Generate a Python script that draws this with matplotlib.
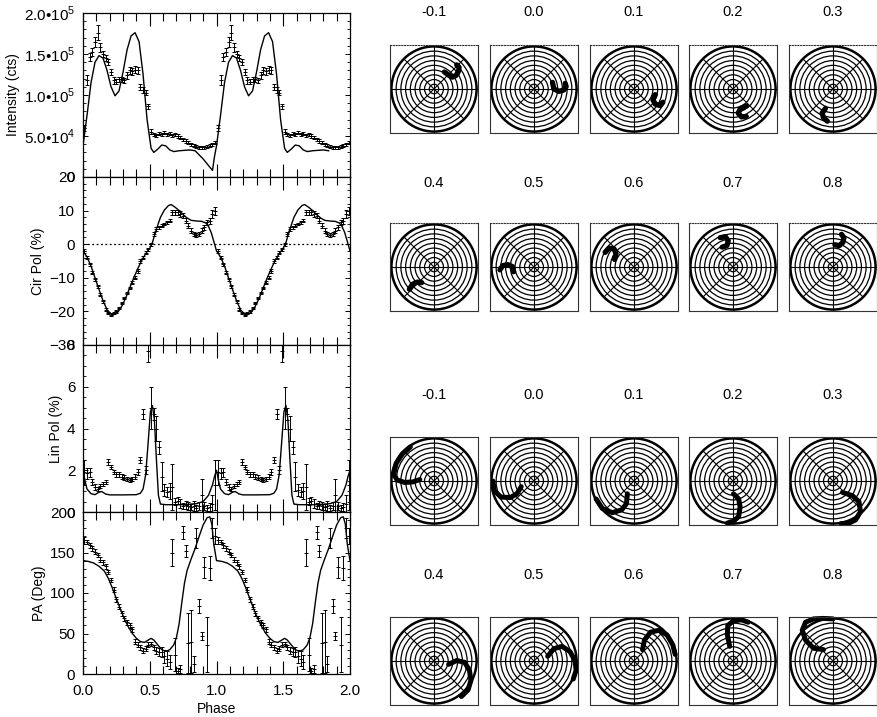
import numpy as np
import matplotlib.pyplot as plt
from matplotlib.patches import Circle
from matplotlib.ticker import MultipleLocator, FuncFormatter

plt.rcParams['font.family'] = ['Liberation Sans', 'DejaVu Sans']
plt.rcParams['mathtext.fontset'] = 'custom'
plt.rcParams['mathtext.rm'] = 'Liberation Sans'
plt.rcParams['font.size'] = 10

# ---------------- light-curve data (one cycle, shown twice) ----------------
phase_bins = np.arange(0.01, 1.0, 0.02)

intensity = [60, 118, 146, 152, 165, 176, 158, 150, 145, 140,
             128, 118, 116, 119, 119, 118, 124, 130, 129, 131,
             130, 110, 106, 103, 86, 55, 52, 51, 53, 52,
             54, 52, 53, 51, 52, 50, 48, 46, 44, 42,
             40, 38, 37, 36, 36, 36, 37, 38, 40, 42]  # x 1e3 cts
intensity_err = [4, 6, 5, 5, 6, 9, 5, 4, 4, 4,
                 4, 4, 3, 3, 3, 3, 4, 4, 4, 4,
                 4, 4, 4, 3, 3, 3, 2, 2, 2, 2,
                 2, 2, 2, 2, 2, 2, 2, 2, 2, 2,
                 2, 2, 2, 2, 2, 2, 2, 2, 2, 2]

cirpol = [-2.0, -4.0, -6.0, -8.5, -10.5, -12.5, -15.0, -17.0, -19.5, -20.5,
          -21.0, -20.5, -20.0, -19.0, -17.5, -16.0, -14.5, -13.0, -11.5, -10.0,
          -8.0, -5.0, -4.0, -2.5, -1.5, 0.0, 3.0, 4.5, 5.0, 5.5,
          6.0, 6.5, 7.0, 9.5, 9.5, 9.5, 9.0, 8.5, 7.0, 5.5,
          4.0, 3.0, 2.8, 3.0, 4.0, 5.0, 6.5, 7.0, 9.0, 10.0]
cirpol_err = [0.5, 0.4, 0.4, 0.4, 0.4, 0.4, 0.4, 0.4, 0.4, 0.4,
              0.4, 0.4, 0.4, 0.4, 0.4, 0.4, 0.4, 0.4, 0.4, 0.5,
              0.5, 0.5, 0.4, 0.4, 0.4, 0.4, 0.5, 0.5, 0.4, 0.4,
              0.4, 0.4, 0.5, 0.8, 0.8, 0.8, 0.8, 0.7, 0.7, 0.7,
              0.7, 0.6, 0.6, 0.6, 0.7, 0.7, 0.8, 0.9, 1.2, 1.2]

linpol = [1.9, 1.85, 1.9, 1.45, 1.2, 1.1, 1.25, 1.35, 1.45, 2.4,
          2.15, 1.9, 1.8, 1.8, 1.7, 1.65, 1.6, 1.55, 1.6, 1.7,
          1.9, 2.5, 4.7, 2.0, 7.7, 5.0, 4.7, 4.0, 3.1, 1.7,
          1.05, 0.95, 1.0, 1.2, 0.5, 0.55, 0.4, 0.3, 0.35, 0.3,
          0.25, 0.3, 0.2, 0.3, 0.8, 0.3, 0.2, 0.25, 0.4, 1.3]
linpol_err = [0.6, 0.25, 0.2, 0.15, 0.15, 0.1, 0.1, 0.1, 0.1, 0.15,
              0.1, 0.1, 0.1, 0.1, 0.1, 0.1, 0.1, 0.1, 0.1, 0.1,
              0.15, 0.15, 0.25, 0.2, 0.5, 1.0, 0.3, 0.6, 0.3, 0.7,
              0.3, 0.25, 0.4, 1.1, 0.15, 0.15, 0.2, 0.15, 0.2, 0.2,
              0.15, 0.25, 0.15, 0.2, 0.8, 0.2, 0.15, 0.2, 0.4, 1.2]

pa = [165, 163, 159, 155, 151, 147, 141, 138, 133, 126,
      116, 104, 92, 83, 75, 69, 64, 60, 55, 40,
      36, 33, 29, 31, 36, 37, 33, 29, 27, 27,
      22, 19, 15, 150, 24, 4, 6, 175, 152, 38,
      40, 12, 168, 84, 47, 132, 36, 131, 180, 170]
pa_err = [4, 3, 3, 3, 3, 3, 3, 3, 3, 3,
          3, 3, 3, 3, 3, 3, 3, 3, 3, 3,
          3, 3, 3, 3, 3, 3, 3, 4, 5, 6,
          8, 9, 9, 17, 20, 3, 5, 8, 7, 37,
          39, 10, 12, 9, 5, 13, 34, 15, 12, 10]

# ---------------- model curves (one cycle) ----------------
int_model_phase = [0.00, 0.03, 0.06, 0.09, 0.12, 0.15, 0.18, 0.21, 0.24, 0.27,
                   0.30, 0.33, 0.36, 0.39, 0.42, 0.45, 0.48, 0.51, 0.53, 0.56,
                   0.59, 0.62, 0.65, 0.68, 0.72, 0.80, 0.84, 0.90, 0.95, 0.97,
                   0.985, 1.00]
int_model = [38, 75, 115, 140, 148, 145, 130, 110, 99, 105,
             128, 155, 172, 176, 165, 125, 70, 35, 30, 34,
             39, 38, 33, 31, 32, 33, 32, 22, 12, 8,
             25, 38]  # x 1e3 cts

cp_model_phase = [0.00, 0.03, 0.06, 0.09, 0.12, 0.15, 0.18, 0.21, 0.23, 0.26,
                  0.29, 0.32, 0.35, 0.38, 0.41, 0.44, 0.47, 0.50, 0.52, 0.55,
                  0.58, 0.61, 0.64, 0.66, 0.69, 0.72, 0.75, 0.78, 0.81, 0.85,
                  0.89, 0.92, 0.94, 0.96, 0.98, 1.00]
cp_model = [-2.0, -3.8, -6.5, -10.0, -13.5, -16.8, -19.5, -20.8, -21.0, -20.3,
            -18.5, -16.0, -13.0, -10.0, -7.3, -4.8, -2.8, -1.2, 0.5, 4.5,
            8.0, 10.2, 11.5, 11.8, 11.0, 10.0, 8.8, 7.8, 7.1, 6.9,
            6.8, 6.3, 5.3, 3.5, 0.8, -2.0]

lp_model_phase = [0.00, 0.015, 0.03, 0.06, 0.09, 0.12, 0.14, 0.17, 0.20, 0.30,
                  0.40, 0.43, 0.45, 0.47, 0.49, 0.505, 0.52, 0.535, 0.55, 0.565,
                  0.58, 0.62, 0.75, 0.85, 0.90, 0.94, 0.97, 0.985, 1.00]
lp_model = [2.0, 1.5, 1.1, 0.88, 0.83, 0.95, 0.98, 0.86, 0.82, 0.82,
            0.83, 0.9, 1.1, 1.8, 3.5, 4.8, 5.1, 4.4, 2.5, 0.8,
            0.38, 0.35, 0.35, 0.4, 0.5, 0.8, 1.3, 1.7, 2.0]

pa_model_phase = [0.00, 0.04, 0.08, 0.12, 0.16, 0.19, 0.22, 0.25, 0.28, 0.31,
                  0.34, 0.37, 0.40, 0.43, 0.46, 0.49, 0.51, 0.53, 0.56, 0.59,
                  0.62, 0.65, 0.68, 0.70, 0.72, 0.74, 0.76, 0.78, 0.81, 0.84,
                  0.87, 0.90, 0.93, 0.95, 0.965, 0.98, 1.00]
pa_model = [140, 139, 137, 133, 127, 118, 106, 93, 80, 68,
            58, 50, 44, 40, 39, 42, 44, 42, 36, 30,
            28, 30, 36, 45, 62, 88, 112, 128, 142, 155,
            170, 184, 193, 194, 185, 160, 140]

# ---------------- polarisation maps ----------------
map_phases = ['-0.1', '0.0', '0.1', '0.2', '0.3', '0.4', '0.5', '0.6', '0.7', '0.8']

circ_tracks = [
    [(22, 36), (30, 30), (39, 25), (47, 29), (52, 38), (53, 46), (48, 51)],
    [(39, 14), (42, 0), (53, -5), (63, -2), (68, 5), (66, 12)],
    [(45, -12), (40, -23), (45, -32), (55, -35), (61, -28)],
    [(28, -36), (16, -41), (11, -51), (18, -59), (28, -58)],
    [(-16, -41), (-23, -51), (-20, -61), (-12, -68)],
    [(-52, -47), (-46, -37), (-36, -32), (-26, -33)],
    [(-72, -6), (-66, 3), (-55, 5), (-46, 1), (-43, -10)],
    [(-61, 31), (-53, 40), (-42, 38), (-38, 28), (-41, 16)],
    [(-27, 62), (-16, 64), (-10, 55), (-13, 45), (-23, 42)],
    [(18, 69), (23, 62), (21, 52), (13, 45), (4, 47)],
]

lin_tracks = [
    [(-50, 72), (-67, 57), (-80, 37), (-85, 15), (-78, 2), (-62, -3), (-45, -2), (-30, 3)],
    [(-87, 0), (-84, -20), (-70, -34), (-50, -35), (-36, -27), (-27, -12)],
    [(-80, -38), (-67, -58), (-46, -67), (-26, -61), (-16, -48), (-14, -27)],
    [(1, -27), (12, -38), (15, -55), (12, -75), (1, -85), (-12, -89)],
    [(20, -24), (41, -31), (55, -44), (58, -65), (48, -82), (34, -89), (17, -90)],
    [(31, -7), (48, 1), (65, -3), (75, -20), (78, -41), (72, -61), (58, -75)],
    [(29, 10), (42, 26), (59, 31), (76, 20), (87, 0), (89, -20), (83, -38)],
    [(18, 24), (22, 44), (35, 61), (53, 65), (70, 55), (82, 34), (87, 14)],
    [(-7, 31), (-12, 55), (-11, 75), (1, 85), (18, 87), (32, 82)],
    [(-20, 24), (-41, 27), (-58, 44), (-65, 65), (-58, 82), (-41, 89), (-20, 90), (0, 89)],
]

W, H = 877, 717
fig = plt.figure(figsize=(W / 100, H / 100), dpi=100)


def px_axes(x0, y0, x1, y1):
    return fig.add_axes([x0 / W, 1 - y1 / H, (x1 - x0) / W, (y1 - y0) / H])


def two_cycles(ph, vals, stop=None):
    ph = np.asarray(ph)
    vals = np.asarray(vals, dtype=float)
    ph2, v2 = ph + 1, vals
    if stop is not None:
        keep = ph <= stop
        ph2, v2 = ph[keep] + 1, vals[keep]
    return np.concatenate([ph, ph2]), np.concatenate([vals, v2])


def sci_fmt(v, pos):
    if v <= 0:
        return '0'
    e = int(np.floor(np.log10(v) + 1e-9))
    return f'{v / 10 ** e:.1f}\u2022' + r'10$^{%d}$' % e


edges = [13, 177, 345, 512, 674]
panels = [
    (intensity, intensity_err, int_model_phase, int_model, 'Intensity (cts)', (0, 2e5), 5e4, 1e4, 1e3),
    (cirpol, cirpol_err, cp_model_phase, cp_model, 'Cir Pol (%)', (-30, 20), 10, 2, 1),
    (linpol, linpol_err, lp_model_phase, lp_model, 'Lin Pol (%)', (0, 8), 2, 0.5, 1),
    (pa, pa_err, pa_model_phase, pa_model, 'PA (Deg)', (0, 200), 50, 10, 1),
]

for i, (vals, errs, mph, mvals, label, ylim, major, minor, scale) in enumerate(panels):
    ax = px_axes(83, edges[i], 350, edges[i + 1])
    x, y = two_cycles(phase_bins, np.asarray(vals) * scale)
    _, e = two_cycles(phase_bins, np.asarray(errs) * scale)
    ax.errorbar(x, y, yerr=e, fmt='_', ms=2.5, mew=0.7, color='k',
                elinewidth=0.7, capsize=1.2, capthick=0.7)
    stop = 0.84 if i == 0 else None
    mx, my = two_cycles(mph, np.asarray(mvals) * scale, stop)
    ax.plot(mx, my, color='k', lw=1.0)
    if i == 1:
        ax.axhline(0, color='k', lw=0.9, ls=(0, (1.5, 2)))

    ax.set_xlim(0, 2)
    ax.set_ylim(*ylim)
    ax.xaxis.set_major_locator(MultipleLocator(0.5))
    ax.xaxis.set_minor_locator(MultipleLocator(0.1))
    ax.yaxis.set_major_locator(MultipleLocator(major))
    ax.yaxis.set_minor_locator(MultipleLocator(minor))
    ax.tick_params(axis='x', which='both', direction='in', top=True, bottom=True)
    ax.tick_params(axis='x', which='major', length=9.5, width=0.8, pad=7, labelsize=11)
    ax.tick_params(axis='x', which='minor', length=5.5, width=0.8)
    ax.tick_params(axis='y', which='both', direction='in', left=True, right=True)
    ax.tick_params(axis='y', which='major', length=3.5, width=0.7, pad=5.5, labelsize=11)
    ax.tick_params(axis='y', which='minor', length=2, width=0.6)
    if i == 0:
        ax.yaxis.set_major_formatter(FuncFormatter(sci_fmt))
    if i < 3:
        ax.tick_params(axis='x', labelbottom=False)
    else:
        ax.xaxis.set_major_formatter(FuncFormatter(lambda v, p: f'{v:.1f}'))
        ax.set_xlabel('Phase', labelpad=3, fontsize=10)
    ax.set_ylabel(label, labelpad=3, fontsize=10)
    for sp in ax.spines.values():
        sp.set_linewidth(0.9)

# ---------------- map grid ----------------
col_left = [390, 490, 590, 689, 789]
row_top = [45, 223, 437, 617]
title_y = [12, 183, 395, 575]
box = 88


def draw_map(ax, track, lw, dotted_top):
    for r in range(10, 100, 10):
        ax.add_patch(Circle((0, 0), r, fill=False, color='k',
                            lw=1.8 if r == 90 else 0.9))
    for ang in (0, 45, 90, 135):
        t = np.deg2rad(ang)
        ax.plot([-90 * np.cos(t), 90 * np.cos(t)], [-90 * np.sin(t), 90 * np.sin(t)],
                color='k', lw=0.8)
    tx, ty = zip(*track)
    ax.plot(tx, ty, color='k', lw=lw, solid_capstyle='round', solid_joinstyle='round',
            clip_on=False)
    ax.set_xlim(-93, 93)
    ax.set_ylim(-93, 93)
    ax.set_xticks([])
    ax.set_yticks([])
    for sp in ax.spines.values():
        sp.set_linewidth(0.8)
        sp.set_color('#333333')
    if dotted_top:
        ax.spines['top'].set_linestyle((0, (1, 1.5)))


for row in range(4):
    tracks = circ_tracks if row < 2 else lin_tracks
    for col in range(5):
        k = (row % 2) * 5 + col
        x0, y0 = col_left[col], row_top[row]
        ax = px_axes(x0, y0, x0 + box, y0 + box)
        draw_map(ax, tracks[k], 3.8 if row < 2 else 3.6, row < 2)
        fig.text((x0 + box / 2) / W, 1 - title_y[row] / H, map_phases[k],
                 ha='center', va='center', fontsize=10.5)

fig.savefig('out.png', dpi=100)
